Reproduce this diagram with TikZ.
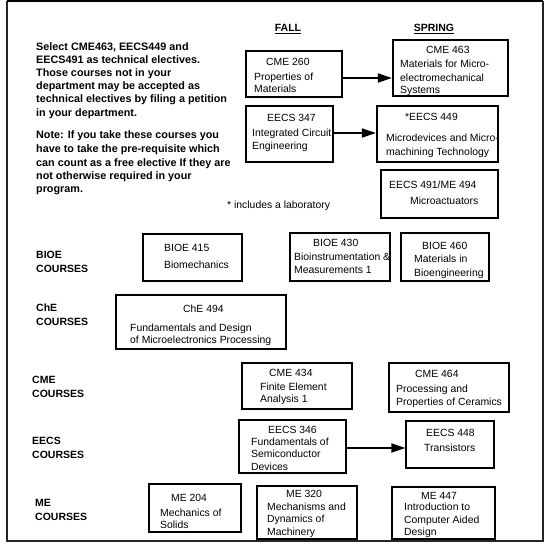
\documentclass[tikz,border=0pt]{standalone}
\usepackage{fontspec}
\setmainfont{Liberation Sans}
\usetikzlibrary{arrows.meta,fit}
\tikzset{
  txt/.style={font=\fontsize{10.4}{12}\selectfont, inner sep=0pt, text=black},
  btxt/.style={font=\fontsize{10.8}{13}\selectfont\bfseries, inner sep=0pt, text=black},
  lbl/.style={font=\fontsize{10.5}{12}\selectfont\bfseries, inner sep=0pt, text=black},
  thinbox/.style={draw=black, line width=1.1pt, inner sep=0pt},
  midbox/.style={draw=black, line width=1.5pt, inner sep=0pt},
  thickbox/.style={draw=black, line width=2.2pt, inner sep=0pt},
  arr/.style={line width=1.8pt, -{Triangle[length=14pt,width=9pt]}},
}
\newcommand{\putline}[5][txt]{\node[#1,anchor=base west] (#2) at (#3,#4+3.7) {#5};}
\newcommand{\coursebox}[6]{\node[#6, fit={(#2,#3) (#4,#5)}] (#1) {};}
\begin{document}
\begin{tikzpicture}[x=1pt,y=-1pt]
\useasboundingbox (0,0) rectangle (550,547);
% frame
\draw[line width=1.2pt, black!85] (7,1.5) rectangle (543,541);
\draw[line width=2.5pt, black] (7,1) -- (543,1);

% left text block
\putline[btxt]{p1}{36}{47}{Select CME463, EECS449 and}
\putline[btxt]{p2}{36}{60}{EECS491 as technical electives.}
\putline[btxt]{p3}{36}{72.5}{Those courses not in your}
\putline[btxt]{p4}{36}{86}{department may be accepted as}
\putline[btxt]{p5}{36}{99}{technical electives by filing a petition}
\putline[btxt]{p6}{36}{113}{in your department.}
\putline[btxt]{n1}{36}{135}{Note: If you take these courses you}
\putline[btxt]{n2}{36}{149}{have to take the pre-requisite which}
\putline[btxt]{n3}{36}{162.5}{can count as a free elective If they are}
\putline[btxt]{n4}{36}{176}{not otherwise required in your}
\putline[btxt]{n5}{36}{189}{program.}

% headers
\node[lbl,anchor=base] (fall) at (288,31.5) {\underline{FALL}};
\node[lbl,anchor=base] (spring) at (434,31.5) {\underline{SPRING}};

% boxes
\coursebox{cme260}{246}{51}{342}{97}{thinbox}
\coursebox{cme463}{393}{40}{508}{96}{thickbox}
\coursebox{eecs347}{246}{106}{333}{162}{thinbox}
\coursebox{eecs449}{377}{106}{498}{162}{thickbox}
\coursebox{eecs491}{381}{170}{498}{218}{thickbox}
\coursebox{bioe415}{143}{234}{242}{281}{thinbox}
\coursebox{bioe430}{290}{233}{390}{281}{midbox}
\coursebox{bioe460}{401}{233}{489}{281}{midbox}
\coursebox{che494}{116}{295}{286}{349}{thickbox}
\coursebox{cme434}{242}{363}{352}{409}{thinbox}
\coursebox{cme464}{389}{363}{509}{412}{midbox}
\coursebox{eecs346}{239}{420}{346}{473}{thinbox}
\coursebox{eecs448}{406}{421}{494}{468}{thinbox}
\coursebox{me204}{149}{484}{241}{532}{thinbox}
\coursebox{me320}{257}{486}{357}{539}{midbox}
\coursebox{me447}{392}{487}{495}{539}{midbox}

% box texts
\putline{cme260a}{266}{62}{CME 260}
\putline{cme260b}{254}{77}{Properties of}
\putline{cme260c}{254}{89}{Materials}

\putline{cme463a}{426}{50}{CME 463}
\putline{cme463b}{400}{64}{Materials for Micro-}
\putline{cme463c}{400}{78}{electromechanical}
\putline{cme463d}{400}{90}{Systems}

\putline{eecs347a}{267}{118}{EECS 347}
\putline{eecs347b}{252}{133}{Integrated Circuit}
\putline{eecs347c}{252}{146}{Engineering}

\putline{eecs449a}{405}{117}{*EECS 449}
\putline{eecs449b}{386}{138}{Microdevices and Micro-}
\putline{eecs449c}{386}{152}{machining Technology}

\putline{eecs491a}{389}{185}{EECS 491/ME 494}
\putline{eecs491b}{410}{201}{Microactuators}

\putline{lab}{227}{205}{* includes a laboratory}

\putline{bioe415a}{164}{248}{BIOE 415}
\putline{bioe415b}{164}{265}{Biomechanics}

\putline{bioe430a}{313}{243}{BIOE 430}
\putline{bioe430b}{294}{257}{Bioinstrumentation \&}
\putline{bioe430c}{294}{270}{Measurements 1}

\putline{bioe460a}{422}{246}{BIOE 460}
\putline{bioe460b}{414}{259}{Materials in}
\putline{bioe460c}{414}{273}{Bioengineering}

\putline{che494a}{183}{309}{ChE 494}
\putline{che494b}{130}{328}{Fundamentals and Design}
\putline{che494c}{130}{339.5}{of Microelectronics Processing}

\putline{cme434a}{269}{373}{CME 434}
\putline{cme434b}{260}{387}{Finite Element}
\putline{cme434c}{260}{399}{Analysis 1}

\putline{cme464a}{415}{374}{CME 464}
\putline{cme464b}{396}{389}{Processing and}
\putline{cme464c}{396}{402}{Properties of Ceramics}

\putline{eecs346a}{268}{430}{EECS 346}
\putline{eecs346b}{251}{441.5}{Fundamentals of}
\putline{eecs346c}{251}{454}{Semiconductor}
\putline{eecs346d}{251}{467}{Devices}

\putline{eecs448a}{426}{433}{EECS 448}
\putline{eecs448b}{424}{448}{Transistors}

\putline{me204a}{171}{498}{ME 204}
\putline{me204b}{160}{513}{Mechanics of}
\putline{me204c}{160}{525}{Solids}

\putline{me320a}{286}{494}{ME 320}
\putline{me320b}{267}{506.5}{Mechanisms and}
\putline{me320c}{267}{519}{Dynamics of}
\putline{me320d}{267}{532}{Machinery}

\putline{me447a}{421}{496}{ME 447}
\putline{me447b}{404}{507}{Introduction to}
\putline{me447c}{404}{519.5}{Computer Aided}
\putline{me447d}{404}{532}{Design}

% row labels
\putline[lbl]{bioeL}{36}{255}{BIOE}
\putline[lbl]{bioeC}{36}{269}{COURSES}
\putline[lbl]{cheL}{36}{308}{ChE}
\putline[lbl]{cheC}{36}{322}{COURSES}
\putline[lbl]{cmeL}{32}{380}{CME}
\putline[lbl]{cmeC}{32}{394}{COURSES}
\putline[lbl]{eecsL}{32}{441}{EECS}
\putline[lbl]{eecsC}{32}{455}{COURSES}
\putline[lbl]{meL}{35}{503}{ME}
\putline[lbl]{meC}{35}{517}{COURSES}

% arrows
\draw[arr] ([yshift=-4pt]cme260.east) -- ([yshift=-10pt]cme463.west);
\draw[arr] ([yshift=1pt]eecs347.east) -- ([yshift=1pt]eecs449.west);
\draw[arr] ([yshift=-1.5pt]eecs346.east) -- ([yshift=-3.5pt]eecs448.west);
\end{tikzpicture}
\end{document}
